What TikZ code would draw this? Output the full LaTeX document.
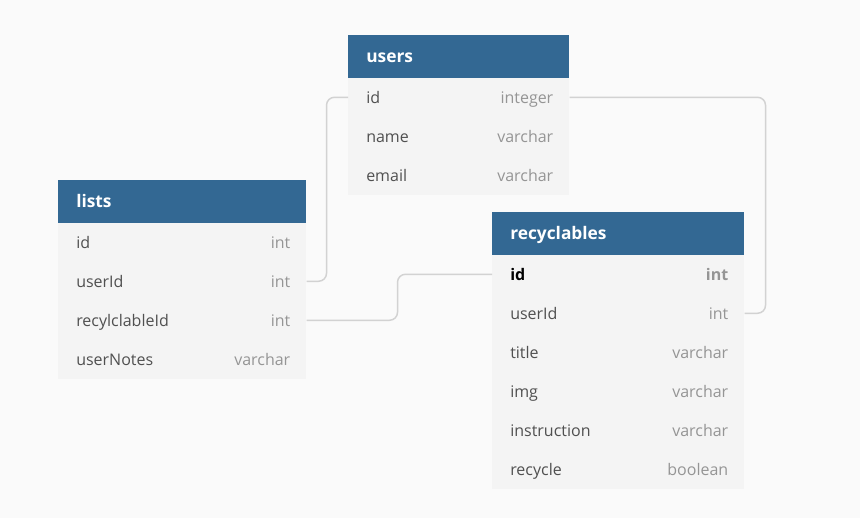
\documentclass[tikz,border=0pt]{standalone}
\usepackage{fontspec}
\setmainfont{Open Sans}
\definecolor{bg}{HTML}{FAFAFA}
\definecolor{hdrblue}{HTML}{336893}
\definecolor{bodyc}{HTML}{F4F4F4}
\definecolor{namec}{HTML}{505050}
\definecolor{typec}{HTML}{959595}
\definecolor{linec}{HTML}{D2D2D2}
\tikzset{
  hdr/.style={anchor=north west, fill=hdrblue, text=white, inner xsep=13.5pt, inner ysep=0pt,
    minimum height=31.875pt, align=left, text height=9.5pt, text depth=0pt,
    font=\bfseries\fontsize{13}{15}\selectfont},
  bodybox/.style={anchor=north west, fill=bodyc, inner sep=0pt},
  rowbox/.style={anchor=north west, inner sep=0pt, minimum height=29.25pt},
  fname/.style={anchor=west, inner sep=0pt, text=namec, text height=8.8pt, text depth=0pt,
    font=\fontsize{12}{14}\selectfont},
  ftype/.style={anchor=east, inner sep=0pt, text=typec, text height=8.8pt, text depth=0pt,
    font=\fontsize{12}{14}\selectfont},
  conn/.style={draw=linec, line width=1.1pt, rounded corners=6pt},
}
\begin{document}
\begin{tikzpicture}[x=0.75pt, y=-0.75pt]
\fill[bg] (0,0) rectangle (860,518);
\useasboundingbox (0,0) rectangle (860,518);

% users
\node[bodybox, minimum width=165.75pt, minimum height=87.75pt] (ubody) at (348,77.5) {};
\node[hdr, text width=138.75pt] (users) at (348,35) {users};
\node[rowbox, minimum width=165.75pt] (uid) at (348,77.5) {};
\node[rowbox, minimum width=165.75pt] (uname) at (348,116.5) {};
\node[rowbox, minimum width=165.75pt] (uemail) at (348,155.5) {};
\node[fname] at ([xshift=13.5pt,yshift=-0.6pt]uid.west) {id};
\node[ftype] at ([xshift=-12pt,yshift=-0.6pt]uid.east) {integer};
\node[fname] at ([xshift=13.5pt,yshift=-0.6pt]uname.west) {name};
\node[ftype] at ([xshift=-12pt,yshift=-0.6pt]uname.east) {varchar};
\node[fname] at ([xshift=13.5pt,yshift=-0.6pt]uemail.west) {email};
\node[ftype] at ([xshift=-12pt,yshift=-0.6pt]uemail.east) {varchar};

% lists
\node[bodybox, minimum width=186pt, minimum height=117pt] (lbody) at (58,222.5) {};
\node[hdr, text width=159pt] (lists) at (58,180) {lists};
\node[rowbox, minimum width=186pt] (lid) at (58,222.5) {};
\node[rowbox, minimum width=186pt] (luid) at (58,261.5) {};
\node[rowbox, minimum width=186pt] (lrid) at (58,300.5) {};
\node[rowbox, minimum width=186pt] (lnotes) at (58,339.5) {};
\node[fname] at ([xshift=13.5pt,yshift=-0.6pt]lid.west) {id};
\node[ftype] at ([xshift=-12pt,yshift=-0.6pt]lid.east) {int};
\node[fname] at ([xshift=13.5pt,yshift=-0.6pt]luid.west) {userId};
\node[ftype] at ([xshift=-12pt,yshift=-0.6pt]luid.east) {int};
\node[fname] at ([xshift=13.5pt,yshift=-0.6pt]lrid.west) {recylclableId};
\node[ftype] at ([xshift=-12pt,yshift=-0.6pt]lrid.east) {int};
\node[fname] at ([xshift=13.5pt,yshift=-0.6pt]lnotes.west) {userNotes};
\node[ftype] at ([xshift=-12pt,yshift=-0.6pt]lnotes.east) {varchar};

% recyclables
\node[bodybox, minimum width=189pt, minimum height=175.5pt] (rbody) at (492,254.5) {};
\node[hdr, text width=162pt] (recyc) at (492,212) {recyclables};
\node[rowbox, minimum width=189pt] (rid) at (492,254.5) {};
\node[rowbox, minimum width=189pt] (ruid) at (492,293.5) {};
\node[rowbox, minimum width=189pt] (rtitle) at (492,332.5) {};
\node[rowbox, minimum width=189pt] (rimg) at (492,371.5) {};
\node[rowbox, minimum width=189pt] (rinstr) at (492,410.5) {};
\node[rowbox, minimum width=189pt] (rrec) at (492,449.5) {};
\node[fname, text=black, font=\bfseries\fontsize{12}{14}\selectfont] at ([xshift=13.5pt,yshift=-0.6pt]rid.west) {id};
\node[ftype, font=\bfseries\fontsize{12}{14}\selectfont] at ([xshift=-12pt,yshift=-0.6pt]rid.east) {int};
\node[fname] at ([xshift=13.5pt,yshift=-0.6pt]ruid.west) {userId};
\node[ftype] at ([xshift=-12pt,yshift=-0.6pt]ruid.east) {int};
\node[fname] at ([xshift=13.5pt,yshift=-0.6pt]rtitle.west) {title};
\node[ftype] at ([xshift=-12pt,yshift=-0.6pt]rtitle.east) {varchar};
\node[fname] at ([xshift=13.5pt,yshift=-0.6pt]rimg.west) {img};
\node[ftype] at ([xshift=-12pt,yshift=-0.6pt]rimg.east) {varchar};
\node[fname] at ([xshift=13.5pt,yshift=-0.6pt]rinstr.west) {instruction};
\node[ftype] at ([xshift=-12pt,yshift=-0.6pt]rinstr.east) {varchar};
\node[fname] at ([xshift=13.5pt,yshift=-0.6pt]rrec.west) {recycle};
\node[ftype] at ([xshift=-12pt,yshift=-0.6pt]rrec.east) {boolean};

% connectors
\draw[conn] (luid.east) -- ++(20,0) |- (uid.west);
\draw[conn] (lrid.east) -- ++(91,0) |- (rid.west);
\draw[conn] (uid.east) -- ++(196,0) |- (ruid.east);
\end{tikzpicture}
\end{document}
